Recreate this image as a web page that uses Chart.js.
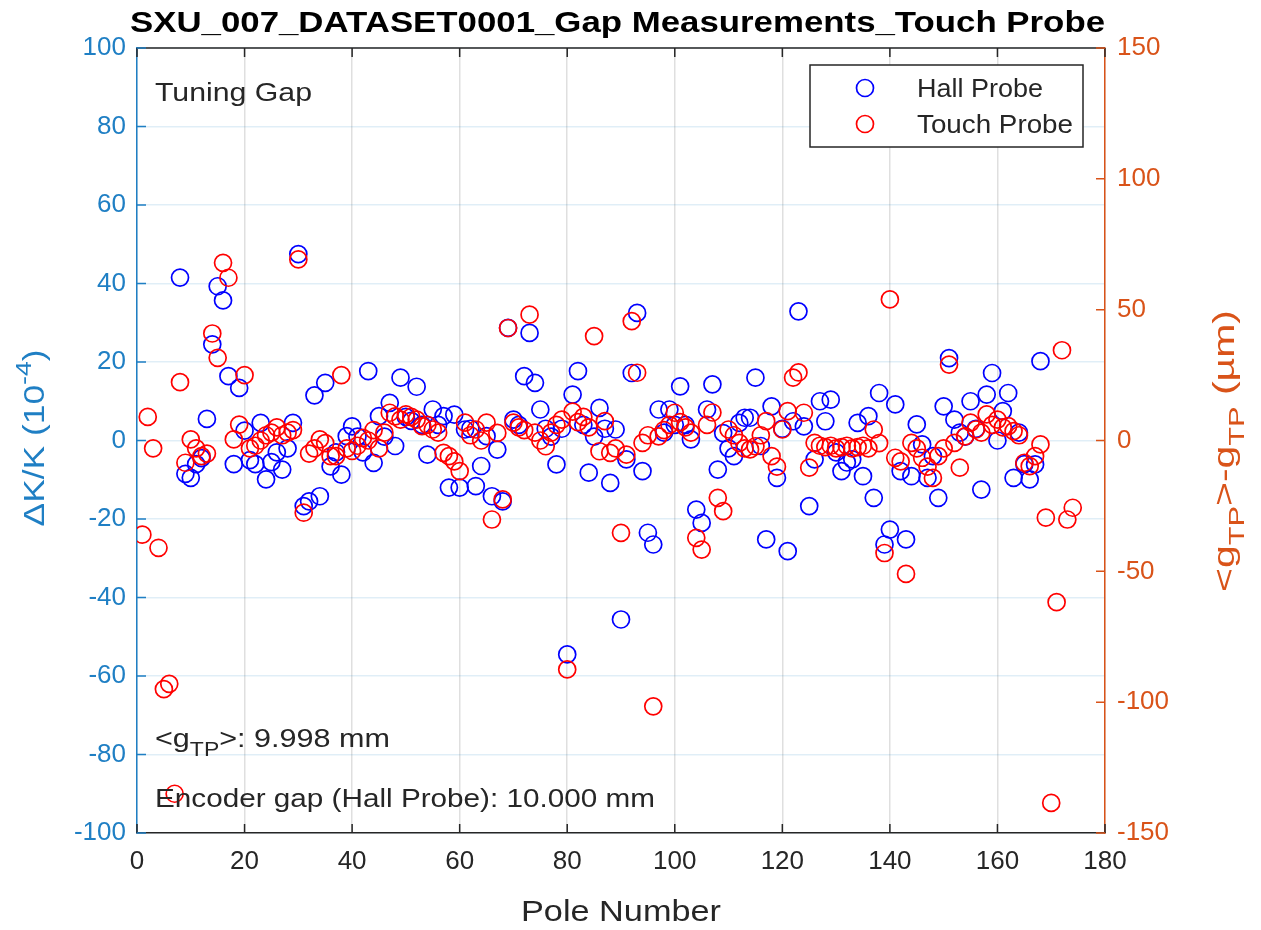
<!DOCTYPE html>
<html>
<head>
<meta charset="utf-8">
<script src="https://cdn.jsdelivr.net/npm/chart.js@4/dist/chart.umd.min.js"></script>
<style>
  html, body { margin: 0; padding: 0; background: #fff; }
  #wrap { width: 1261px; height: 930px; }
</style>
</head>
<body>
<div id="wrap"><canvas id="chart" width="1261" height="930"></canvas></div>
<script>
// Hall probe: dK/K (1e-4), poles 8..168
const hallPoles = [8,9,10,11,12,13,14,15,16,17,18,19,20,21,22,23,24,25,26,27,28,29,30,31,32,33,34,35,36,37,38,39,40,
  41,42,43,44,45,46,47,48,49,50,51,52,53,54,55,56,57,58,59,60,61,62,63,64,65,66,67,68,69,70,71,72,73,74,75,76,77,78,79,80,
  81,82,83,84,85,86,87,88,89,90,91,92,93,94,95,96,97,98,99,100,101,102,103,104,105,106,107,108,109,110,111,112,113,114,115,
  116,117,118,119,120,121,122,123,124,125,126,127,128,129,130,131,132,133,134,135,136,137,138,139,140,141,142,143,144,145,
  146,147,148,149,150,151,152,153,154,155,156,157,158,159,160,161,162,163,164,165,166,167,168];
const hallValues = [41.5,-8.5,-9.5,-6,-4.5,5.5,24.5,39.3,35.7,16.4,-6,13.4,2.5,-5,-6,4.5,-9.9,-5.5,-3,-7.4,-2,4.5,47.5,
  -16.7,-15.5,11.5,-14.2,14.7,-6.6,-3,-8.7,1.1,3.6,1,-3,17.7,-5.7,6.2,1,9.6,-1.4,16,6,5,13.7,4,-3.6,7.9,4,6.2,-12,6.6,-12,
  2.8,3,-11.6,-6.5,1.1,-14.2,-2.3,-15.5,28.7,5.3,4,16.4,27.4,14.7,7.9,3,1,-6.1,3,-54.5,11.7,17.7,4,-8.2,1,8.3,3,-10.8,2.8,
  -45.6,-4.8,17.2,32.5,-7.8,-23.5,-26.5,7.9,2,7.9,4,13.8,4,0.3,-17.6,-21,7.9,14.3,-7.4,1.9,-2,-4,4.5,5.8,5.8,16,-1.4,-25.2,
  8.7,-9.5,3,-28.2,4.9,32.9,3.6,-16.7,-4.8,10,4.9,10.4,-3,-7.8,-5.6,-4.8,4.5,-9.1,6.2,-14.6,12.1,-26.5,-22.7,9.2,-7.8,-25.2,
  -9.1,4.1,-1,-9.5,-4,-14.6,8.7,21,5.3,2,1,10,3,-12.5,11.7,17.2,0,7.5,12.1,-9.5,2,-6,-9.9,-6.1,20.2];

// Touch probe: <gTP> - gTP (um), poles 1..174
const touchPoles = [1,2,3,4,5,6,7,8,9,10,11,12,13,14,15,16,17,18,19,20,21,22,23,24,25,26,27,28,29,30,31,32,33,34,35,36,
  37,38,39,40,41,42,43,44,45,46,47,48,49,50,51,52,53,54,55,56,57,58,59,60,61,62,63,64,65,66,67,68,69,70,71,72,73,74,75,76,
  77,78,79,80,81,82,83,84,85,86,87,88,89,90,91,92,93,94,95,96,97,98,99,100,101,102,103,104,105,106,107,108,109,110,111,112,
  113,114,115,116,117,118,119,120,121,122,123,124,125,126,127,128,129,130,131,132,133,134,135,136,137,138,139,140,141,142,
  143,144,145,146,147,148,149,150,151,152,153,154,155,156,157,158,159,160,161,162,163,164,165,166,167,168,169,170,171,172,
  173,174];
const touchValues = [-36,9,-3,-41,-95,-93,-135,22.3,-8.5,0.4,-3,-6,-5,40.9,31.6,67.9,62.2,0.4,6.1,25,-3,-2,0,2,3,5,2,3,4,
  69.2,-27.6,-5,-3,0.4,-1,-6,-6,25,-3,-4,-2,1,0,4,-3,3,10.6,9.2,8,10,9,8,5.5,6,4.2,3,-4.7,-6,-8,-11.7,6.8,2,4.2,0,6.8,
  -30.2,2.9,-22.5,43,6.8,5,4,48.1,3,0,-2.2,3,6,8,-87.5,11,7,9,5,39.9,-4.1,7.4,-4.7,-3,-35.3,-5.4,45.6,25.9,-0.9,2,-101.6,
  1.6,4,6,10.6,7,5,3,-37.2,-41.7,6,10.7,-21.9,-27,4.2,2,-0.9,-3,-3.4,-2.2,2,7.4,-6,-10,4.2,11.2,24,26,10.6,-10.4,-0.9,-2,
  -2.5,-2,-3,-2.5,-2,-3,-2.5,-2,-3,4.2,-1,-43,53.9,-6.6,-8,-51,-0.9,-3,-6.6,-10,-14.3,-6,-3,29,-0.9,-10.4,1.6,6.8,4.2,3,
  10,6,8,5,5.5,3.6,2,-8.5,-9.8,-6,-1.5,-29.5,-138.5,-61.8,34.5,-30.2,-25.7];

const xTicks = [0,20,40,60,80,100,120,140,160,180];
const leftTicks = [-100,-80,-60,-40,-20,0,20,40,60,80,100];
const rightTicks = [-150,-100,-50,0,50,100,150];

const BLUE_AX = '#1f7fc4';
const ORANGE_AX = '#d95319';
const DARK = '#262626';
const FONT = '"Liberation Sans", Arial, sans-serif';

const hallPts = hallPoles.map((p, i) => ({ x: p, y: hallValues[i] }));
const touchPts = touchPoles.map((p, i) => ({ x: p, y: touchValues[i] }));

// draw text made of segments [{t, scale, dy}], stretched to a target length
function richText(ctx, segs, size, bold, color, x, y, opts) {
  opts = opts || {};
  ctx.save();
  ctx.fillStyle = color;
  ctx.textBaseline = 'alphabetic';
  ctx.textAlign = 'left';
  let w = 0;
  const parts = segs.map(s => {
    const fs = size * (s.scale || 1);
    ctx.font = (bold ? 'bold ' : '') + fs + 'px ' + FONT;
    const mw = ctx.measureText(s.t).width;
    const p = { t: s.t, font: ctx.font, x: w, dy: (s.dy || 0) * size };
    w += mw;
    return p;
  });
  const sx = opts.width ? opts.width / w : (opts.sx || 1);
  ctx.translate(x, y);
  if (opts.rotate) ctx.rotate(opts.rotate);
  ctx.scale(sx, 1);
  let x0 = 0;
  if (opts.align === 'center') x0 = -w / 2;
  parts.forEach(p => {
    ctx.font = p.font;
    ctx.fillText(p.t, x0 + p.x, p.dy);
  });
  ctx.restore();
}

const decor = {
  id: 'decor',
  afterDraw(chart) {
    const ctx = chart.ctx;
    const a = chart.chartArea;
    const sx = chart.scales.x, sy = chart.scales.y, sy1 = chart.scales.y1;

    // box top line and inward ticks
    ctx.save();
    ctx.lineWidth = 1.5;
    ctx.strokeStyle = DARK;
    ctx.beginPath();
    ctx.moveTo(a.left, a.top); ctx.lineTo(a.right, a.top);
    xTicks.forEach(v => {
      const px = sx.getPixelForValue(v);
      ctx.moveTo(px, a.bottom); ctx.lineTo(px, a.bottom - 9);
      ctx.moveTo(px, a.top); ctx.lineTo(px, a.top + 9);
    });
    ctx.stroke();
    ctx.strokeStyle = BLUE_AX;
    ctx.beginPath();
    leftTicks.forEach(v => {
      const py = sy.getPixelForValue(v);
      ctx.moveTo(a.left, py); ctx.lineTo(a.left + 9, py);
    });
    ctx.stroke();
    ctx.strokeStyle = ORANGE_AX;
    ctx.beginPath();
    rightTicks.forEach(v => {
      const py = sy1.getPixelForValue(v);
      ctx.moveTo(a.right, py); ctx.lineTo(a.right - 9, py);
    });
    ctx.stroke();
    ctx.restore();

    // title
    richText(ctx, [{ t: 'SXU_007_DATASET0001_Gap Measurements_Touch Probe' }], 30, true, '#000',
      130, 32, { width: 975 });

    // annotations
    richText(ctx, [{ t: 'Tuning Gap' }], 26, false, DARK, 155, 101, { width: 157 });
    richText(ctx, [{ t: '<g' }, { t: 'TP', scale: 0.75, dy: 0.35 }, { t: '>: 9.998 mm' }], 26, false, DARK,
      155, 747, { width: 235 });
    richText(ctx, [{ t: 'Encoder gap (Hall Probe): 10.000 mm' }], 26, false, DARK, 155, 807, { width: 500 });

    // legend
    ctx.save();
    ctx.fillStyle = '#fff';
    ctx.strokeStyle = DARK;
    ctx.lineWidth = 1.5;
    ctx.fillRect(810, 65, 273, 82);
    ctx.strokeRect(810, 65, 273, 82);
    [['#0000ff', 88], ['#ff0000', 124]].forEach(([c, y]) => {
      ctx.strokeStyle = c;
      ctx.lineWidth = 1.7;
      ctx.beginPath();
      ctx.arc(865, y, 8.5, 0, Math.PI * 2);
      ctx.stroke();
    });
    ctx.restore();
    richText(ctx, [{ t: 'Hall Probe' }], 25, false, DARK, 917, 97, { width: 126 });
    richText(ctx, [{ t: 'Touch Probe' }], 25, false, DARK, 917, 133, { width: 156 });

    // axis titles
    richText(ctx, [{ t: 'Pole Number' }], 29, false, DARK, 621, 921, { width: 200, align: 'center' });
    richText(ctx, [{ t: '\u0394K/K (10' }, { t: '-4', scale: 0.75, dy: -0.45 }, { t: ')' }], 29, false, BLUE_AX,
      44, 438, { width: 177, align: 'center', rotate: -Math.PI / 2 });
    richText(ctx, [{ t: '<g' }, { t: 'TP', scale: 0.75, dy: 0.35 }, { t: '>-g' }, { t: 'TP', scale: 0.75, dy: 0.35 },
      { t: ' (\u00b5m)' }], 29, false, ORANGE_AX, 1234, 451, { width: 282, align: 'center', rotate: -Math.PI / 2 });
  }
};

new Chart(document.getElementById('chart'), {
  type: 'scatter',
  data: {
    datasets: [{
      label: 'Hall Probe',
      data: hallPts,
      yAxisID: 'y',
      order: 2,
      borderColor: '#0000ff',
      backgroundColor: 'rgba(0,0,0,0)',
      pointRadius: 8.5,
      pointBorderWidth: 1.7
    }, {
      label: 'Touch Probe',
      data: touchPts,
      yAxisID: 'y1',
      order: 1,
      borderColor: '#ff0000',
      backgroundColor: 'rgba(0,0,0,0)',
      pointRadius: 8.5,
      pointBorderWidth: 1.7
    }]
  },
  options: {
    responsive: false,
    animation: false,
    events: [],
    layout: { padding: { top: 48, left: 0, right: 0, bottom: 0 } },
    plugins: { legend: { display: false }, tooltip: { enabled: false }, title: { display: false } },
    scales: {
      x: {
        type: 'linear', min: 0, max: 180,
        afterFit: s => { s.height = 97; },
        afterBuildTicks: s => { s.ticks = xTicks.map(v => ({ value: v })); },
        ticks: { color: DARK, font: { family: FONT, size: 26 }, padding: 13 },
        grid: { color: 'rgba(38,38,38,0.15)', lineWidth: 1.5, drawTicks: false },
        border: { color: DARK, width: 1.5 }
      },
      y: {
        position: 'left', min: -100, max: 100,
        afterFit: s => { s.width = 137; },
        afterBuildTicks: s => { s.ticks = leftTicks.map(v => ({ value: v })); },
        ticks: { color: BLUE_AX, font: { family: FONT, size: 26 }, padding: 11 },
        grid: { color: 'rgba(0,114,189,0.12)', lineWidth: 1.5, drawTicks: false },
        border: { color: BLUE_AX, width: 1.5 }
      },
      y1: {
        position: 'right', min: -150, max: 150,
        afterFit: s => { s.width = 156; },
        afterBuildTicks: s => { s.ticks = rightTicks.map(v => ({ value: v })); },
        ticks: { color: ORANGE_AX, font: { family: FONT, size: 26 }, padding: 12 },
        grid: { display: false, drawTicks: false },
        border: { color: ORANGE_AX, width: 1.5 }
      }
    }
  },
  plugins: [decor]
});
</script>
</body>
</html>
